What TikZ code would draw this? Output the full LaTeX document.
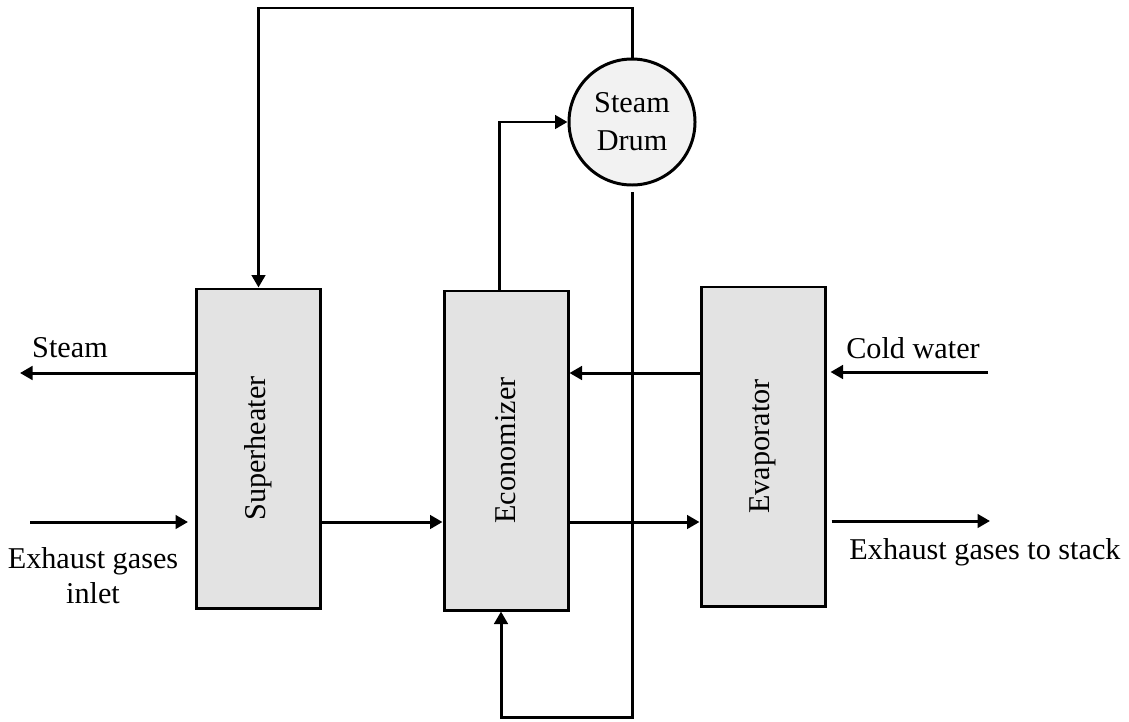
\documentclass[tikz,border=0pt]{standalone}
\usepackage{fontspec}
\setmainfont{Liberation Serif}
\usepackage{tikz}
\usetikzlibrary{arrows.meta}
\definecolor{boxgray}{HTML}{E3E3E3}
\definecolor{drumgray}{HTML}{F2F2F2}

\begin{document}
\begin{tikzpicture}[x=0.2mm, y=-0.2mm, line width=1.7pt,
		lbl/.style={font=\fontsize{17.2}{20}\selectfont},
		unit/.style={draw, fill=boxgray, minimum width=2.48cm, minimum height=6.38cm, inner sep=0pt, lbl},
		flow/.style={-{Triangle[length=2.5mm,width=2.7mm]}}]
				\useasboundingbox (0,0) rectangle (1129,721);
				\node[unit] (sup) at (258.5, 448.5) {\rotatebox{90}{Superheater}};
				\node[unit] (eco) at (506, 450.5) {\rotatebox{90}{Economizer}};
				\node[unit] (evap) at (763, 446.5) {\rotatebox{90}{Evaporator}};
				\node[draw, circle, fill=drumgray, minimum size=2.52cm, inner sep=0pt, align=center, font=\fontsize{17.2}{21.5}\selectfont] (drum) at (632, 122) {Steam\\Drum};
				\coordinate (upper) at (0, 373);
				\coordinate (lower) at (0, 522);
				\coordinate (steam) at (20, 373);
				\coordinate (inlet) at (30, 522);
				\coordinate (cold) at (988, 372);
				\coordinate (stack) at (990, 521);
				\coordinate (topleft) at (258.5, 8);
				\coordinate (loop) at (632, 717);
				\node[lbl] (steamlbl) at (70, 348) {Steam};
				\node[lbl, align=center] (inletlbl) at (93, 576) {Exhaust gases\\inlet};
				\node[lbl] (coldlbl) at (913, 348) {Cold water};
				\node[lbl] (stacklbl) at (985, 552) {Exhaust gases to stack};
				\draw[flow] (sup.west |- steam) -- (steam);
				\draw[flow] (inlet) -- ([xshift=-1.4mm]sup.west |- inlet);
				\draw[flow] (sup.east |- lower) -- (eco.west |- lower);
				\draw[flow] (eco.east |- lower) -- (evap.west |- lower);
				\draw[flow] (evap.west |- upper) -- (eco.east |- upper);
				\draw[flow] (cold) -- ([xshift=0.8mm]evap.east |- cold);
				\draw[flow] ([xshift=1mm]evap.east |- stack) -- (stack);
				\draw[flow] (drum.north) |- (topleft) -- (sup.north);
				\draw[flow] ([xshift=-1.4mm]eco.north) |- (drum.west);
				\draw[flow] ([yshift=-1.2mm]drum.south) -- (loop) -| ([xshift=-1mm]eco.south);
\end{tikzpicture}
\end{document}
